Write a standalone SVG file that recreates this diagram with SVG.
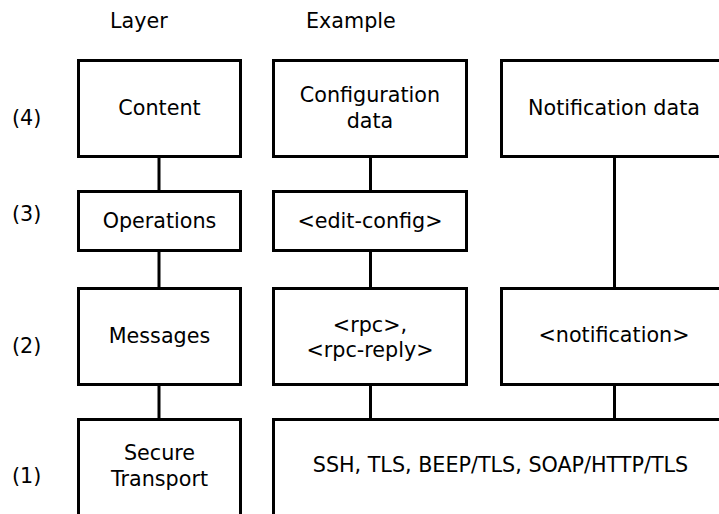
<svg xmlns="http://www.w3.org/2000/svg" width="719" height="514" viewBox="0 0 719 514">
<style>
rect{fill:#fff;stroke:#000;stroke-width:3}
line{stroke:#000;stroke-width:3}
text{font-family:"DejaVu Sans",sans-serif;font-size:20.7px;fill:#000}
.c{text-anchor:middle}
</style>
<rect x="0" y="0" width="719" height="514" style="stroke:none"/>
<g id="labels">
<text x="110" y="28">Layer</text>
<text x="306" y="28">Example</text>
<text x="12" y="125">(4)</text>
<text x="12" y="221">(3)</text>
<text x="12" y="353">(2)</text>
<text x="12" y="483">(1)</text>
</g>
<g id="connectors">
<line x1="159" y1="157" x2="159" y2="191"/>
<line x1="159" y1="251" x2="159" y2="288"/>
<line x1="159" y1="385" x2="159" y2="419"/>
<line x1="370.5" y1="157" x2="370.5" y2="191"/>
<line x1="370.5" y1="251" x2="370.5" y2="288"/>
<line x1="370.5" y1="385" x2="370.5" y2="419"/>
<line x1="614.5" y1="157" x2="614.5" y2="288"/>
<line x1="614.5" y1="385" x2="614.5" y2="419"/>
</g>
<g id="content"><rect x="78.5" y="60.5" width="162" height="96"/><text class="c" x="159.5" y="115">Content</text></g>
<g id="config-data"><rect x="273.5" y="60.5" width="193" height="96"/><text class="c" x="370" y="102">Configuration</text><text class="c" x="370" y="128">data</text></g>
<g id="notification-data"><rect x="501.5" y="60.5" width="230" height="96"/><text class="c" x="614" y="115">Notification data</text></g>
<g id="operations"><rect x="78.5" y="191.5" width="162" height="59"/><text class="c" x="159.5" y="228">Operations</text></g>
<g id="edit-config"><rect x="273.5" y="191.5" width="193" height="59"/><text class="c" x="370" y="228">&lt;edit-config&gt;</text></g>
<g id="messages"><rect x="78.5" y="288.5" width="162" height="96"/><text class="c" x="159.5" y="343">Messages</text></g>
<g id="rpc"><rect x="273.5" y="288.5" width="193" height="96"/><text class="c" x="370" y="332">&lt;rpc&gt;,</text><text class="c" x="370" y="357">&lt;rpc-reply&gt;</text></g>
<g id="notification"><rect x="501.5" y="288.5" width="230" height="96"/><text class="c" x="614" y="342">&lt;notification&gt;</text></g>
<g id="secure-transport"><rect x="78.5" y="419.5" width="162" height="110"/><text class="c" x="159.5" y="460">Secure</text><text class="c" x="159.5" y="486">Transport</text></g>
<g id="transports"><rect x="273.5" y="419.5" width="460" height="110"/><text class="c" x="500.5" y="472">SSH, TLS, BEEP/TLS, SOAP/HTTP/TLS</text></g>
</svg>
